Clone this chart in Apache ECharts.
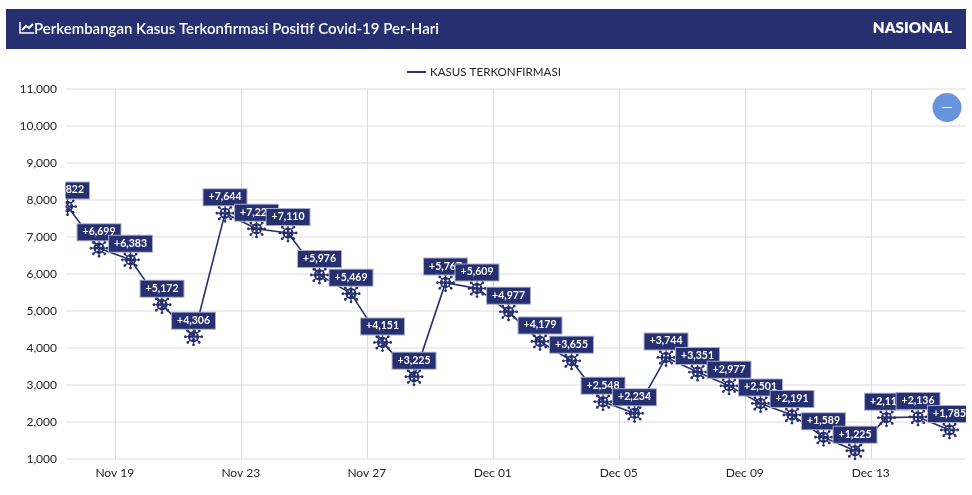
<!DOCTYPE html>
<html>
<head>
<meta charset="utf-8">
<style>html,body{margin:0;padding:0;background:#fff}#c{width:972px;height:495px}</style>
<script src="https://cdn.jsdelivr.net/npm/echarts@6/dist/echarts.min.js"></script>
</head>
<body>
<div id="c"></div>
<script>
const dates = ['2020-11-17','2020-11-18','2020-11-19','2020-11-20','2020-11-21','2020-11-22','2020-11-23','2020-11-24','2020-11-25','2020-11-26','2020-11-27','2020-11-28','2020-11-29','2020-11-30','2020-12-01','2020-12-02','2020-12-03','2020-12-04','2020-12-05','2020-12-06','2020-12-07','2020-12-08','2020-12-09','2020-12-10','2020-12-11','2020-12-12','2020-12-13','2020-12-14','2020-12-15'];
const cases = [7822,6699,6383,5172,4306,7644,7221,7110,5976,5469,4151,3225,5767,5609,4977,4179,3655,2548,2234,3744,3351,2977,2501,2191,1589,1225,2117,2136,1785];
const tickDates = ['2020-11-19','2020-11-23','2020-11-27','2020-12-01','2020-12-05','2020-12-09','2020-12-13'];
const tickLabels = ['Nov 19','Nov 23','Nov 27','Dec 01','Dec 05','Dec 09','Dec 13'];
const seriesName = 'KASUS TERKONFIRMASI';
const titleText = 'Perkembangan Kasus Terkonfirmasi Positif Covid-19 Per-Hari';
const regionText = 'NASIONAL';

const NAVY = '#262f70';
const utc = d => Date.parse(d + 'T00:00:00Z');
const HALF_DAY = 43200000;
const tickValues = tickDates.map(utc);
const lineData = dates.map((d, i) => [utc(d) + HALF_DAY, cases[i]]);
const fmt = v => Number(v).toLocaleString('en-US');

function circ(cx, cy, r, hole) {
  const k = 0.5523 * r, n = v => v.toFixed(3), d = hole ? -1 : 1;
  return `M${n(cx + r)} ${n(cy)}` +
    `C${n(cx + r)} ${n(cy + d * k)} ${n(cx + k)} ${n(cy + d * r)} ${n(cx)} ${n(cy + d * r)}` +
    `C${n(cx - k)} ${n(cy + d * r)} ${n(cx - r)} ${n(cy + d * k)} ${n(cx - r)} ${n(cy)}` +
    `C${n(cx - r)} ${n(cy - d * k)} ${n(cx - k)} ${n(cy - d * r)} ${n(cx)} ${n(cy - d * r)}` +
    `C${n(cx + k)} ${n(cy - d * r)} ${n(cx + r)} ${n(cy - d * k)} ${n(cx + r)} ${n(cy)}Z`;
}
function virus() {
  let p = circ(0, 0, 5.6, false);
  [[-2.1,-2.1,1.0],[2.1,-2.1,1.0],[-2.1,2.1,1.0],[2.1,2.1,1.0],[0,0,0.8]].forEach(h => p += circ(h[0], h[1], h[2], true));
  for (let i = 0; i < 8; i++) {
    const a = i * Math.PI / 4, c = Math.cos(a), s = Math.sin(a), w = 0.6, n = v => v.toFixed(3);
    const x1 = 5 * c, y1 = 5 * s, x2 = 8.2 * c, y2 = 8.2 * s;
    p += `M${n(x1 + w * s)} ${n(y1 - w * c)}L${n(x2 + w * s)} ${n(y2 - w * c)}L${n(x2 - w * s)} ${n(y2 + w * c)}L${n(x1 - w * s)} ${n(y1 + w * c)}Z`;
    p += circ(8.2 * c, 8.2 * s, 1.4, false);
  }
  return 'path://' + p;
}

const yCommon = { type: 'value', min: 1000, max: 11000, interval: 1000 };
const chart = echarts.init(document.getElementById('c'), null, { renderer: 'canvas' });
chart.setOption({
  animation: false,
  textStyle: { fontFamily: 'Lato' },
  grid: { left: 66, right: 6, top: 89, bottom: 36, containLabel: false },
  legend: {
    left: 402, top: 61, icon: 'rect', itemWidth: 19, itemHeight: 2, itemGap: 4,
    data: [seriesName],
    textStyle: { color: '#222', fontSize: 11.6, fontFamily: 'Lato', padding: [0, 0, 0, -1] }
  },
  xAxis: {
    type: 'value',
    min: Date.parse('2020-11-17T10:50:00Z'),
    max: Date.parse('2020-12-16T00:33:00Z'),
    axisLine: { show: false },
    axisTick: { show: false, customValues: tickValues },
    axisLabel: {
      customValues: tickValues, color: '#222', fontSize: 12, margin: 8, fontFamily: 'Lato',
      hideOverlap: false,
      formatter: v => tickLabels[tickValues.indexOf(+v)] || ''
    },
    splitLine: { show: true, lineStyle: { color: '#dcdcdc', width: 1 } }
  },
  yAxis: [
    Object.assign({}, yCommon, {
      axisLine: { show: false }, axisTick: { show: false }, axisLabel: { show: false },
      splitLine: { show: true, lineStyle: { color: '#e8e8e8', width: 1.5 } }
    }),
    Object.assign({}, yCommon, {
      position: 'left', z: 10,
      axisLine: { show: false }, axisTick: { show: false }, splitLine: { show: false },
      axisLabel: { color: '#222', fontSize: 12, margin: 9, fontFamily: 'Lato', formatter: fmt }
    })
  ],
  series: [{
    name: seriesName, type: 'line', yAxisIndex: 0, data: lineData,
    color: NAVY,
    lineStyle: { color: NAVY, width: 1.6 },
    itemStyle: { color: NAVY, opacity: 1 },
    symbol: virus(), symbolSize: 19, showAllSymbol: true,
    label: {
      show: true, position: 'top', distance: -1.5,
      formatter: p => '+' + fmt(p.value[1]),
      backgroundColor: NAVY, borderColor: '#a6a9cc', borderWidth: 1,
      padding: [2, 5, 3, 5], color: '#fff', fontSize: 10.5, fontWeight: 'bold', fontFamily: 'Lato'
    }
  }],
  graphic: [
    { type: 'rect', z: 5, silent: true, shape: { x: 0, y: 78, width: 65.5, height: 395 }, style: { fill: '#fff' } },
    { type: 'rect', z: 5, silent: true, shape: { x: 966, y: 78, width: 6, height: 395 }, style: { fill: '#fff' } },
    { type: 'rect', z: 6, silent: true, shape: { x: 6, y: 9, width: 960, height: 40 }, style: { fill: NAVY } },
    { type: 'polyline', z: 7, silent: true, shape: { points: [[20, 22], [20, 33], [34, 33]] }, style: { stroke: '#fff', lineWidth: 1.5, fill: null } },
    { type: 'polyline', z: 7, silent: true, shape: { points: [[22, 30], [26, 26], [29, 28], [33, 24]] }, style: { stroke: '#fff', lineWidth: 2, fill: null } },
    { type: 'text', z: 7, silent: true, x: 34, y: 29, style: { text: titleText, fill: '#fff', font: '600 15px Lato', textVerticalAlign: 'middle' } },
    { type: 'text', z: 7, silent: true, x: 952, y: 28, style: { text: regionText, fill: '#fff', font: '800 15.3px Lato', textAlign: 'right', textVerticalAlign: 'middle' } },
    { type: 'circle', z: 7, silent: true, shape: { cx: 947, cy: 107.5, r: 14.5 }, style: { fill: '#6794dc' } },
    { type: 'line', z: 8, silent: true, shape: { x1: 942, y1: 107.5, x2: 952, y2: 107.5 }, style: { stroke: '#fff', lineWidth: 1 } }
  ]
});
</script>
</body>
</html>
